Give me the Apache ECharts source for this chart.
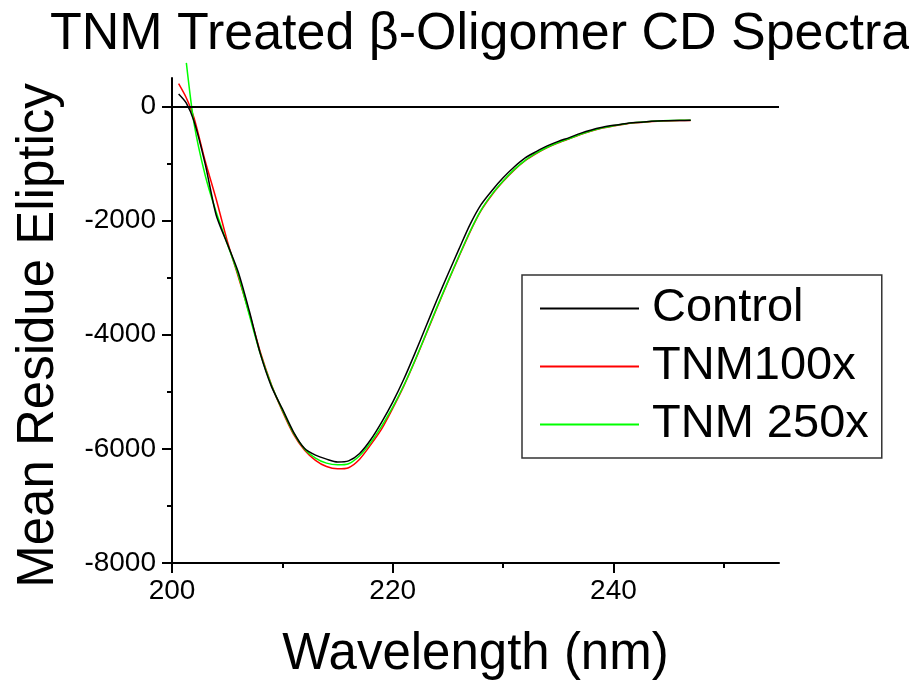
<!DOCTYPE html>
<html>
<head>
<meta charset="utf-8">
<script src="https://cdn.jsdelivr.net/npm/echarts@6/dist/echarts.min.js"></script>
<style>
  html, body { margin: 0; padding: 0; background: #fff; }
  #chart { width: 909px; height: 685px; }
</style>
</head>
<body>
<div id="chart"></div>
<script>
// wavelength (nm); first two points are the irregular starts of the scans
const wavelength = [200.6, 201.3, 202, 203, 204, 205, 206, 207, 208, 209, 210,
  211, 212, 213, 214, 215, 216, 217, 218, 219, 220,
  221, 222, 223, 224, 225, 226, 227, 228, 229, 230,
  231, 232, 233, 234, 235, 236, 237, 238, 239, 240,
  241, 242, 243, 244, 245, 246, 247];

const control = [220, 60, -260, -1000, -1900, -2400, -2900, -3580, -4330, -4900, -5300,
  -5700, -5990, -6110, -6180, -6230, -6210, -6080, -5840, -5530, -5180,
  -4780, -4330, -3860, -3390, -2940, -2500, -2070, -1720, -1470, -1250,
  -1060, -900, -790, -690, -610, -545, -470, -410, -365, -330,
  -300, -280, -265, -255, -248, -244, -242];

const tnm100 = [400, 150, -200, -950, -1620, -2350, -2980, -3620, -4300, -4870, -5340,
  -5740, -6020, -6200, -6310, -6350, -6330, -6180, -5930, -5650, -5290,
  -4900, -4465, -4000, -3530, -3075, -2630, -2200, -1825, -1545, -1315,
  -1115, -950, -825, -720, -635, -565, -492, -428, -378, -340,
  -309, -286, -270, -258, -250, -246, -244];

const tnm250 = [null, 765, -300, -1200, -1850, -2400, -2950, -3650, -4330, -4880, -5320,
  -5720, -6000, -6160, -6250, -6280, -6260, -6120, -5890, -5600, -5270,
  -4890, -4455, -3990, -3520, -3065, -2620, -2190, -1815, -1535, -1305,
  -1105, -942, -818, -714, -630, -560, -488, -424, -374, -336,
  -305, -282, -266, -254, -246, -242, -240];

const seriesNames = ['Control', 'TNM100x', 'TNM 250x'];
const seriesColors = ['#000000', '#ff0000', '#00ff00'];

const xTicks = [200, 220, 240];
const xMinorTicks = [210, 230, 250];
const yTicks = [-8000, -6000, -4000, -2000, 0];
const yMinorTicks = [-7000, -5000, -3000, -1000];

const FONT = '"Liberation Sans", Arial, sans-serif';

function pairs(ys) {
  return wavelength.map((x, i) => [x, ys[i]]);
}

const chart = echarts.init(document.getElementById('chart'), null, { renderer: 'canvas' });

const axisBase = {
  type: 'value',
  splitLine: { show: false },
};
const plainNumber = (v) => String(v);

const option = {
  animation: false,
  backgroundColor: '#fff',
  title: {
    text: 'TNM Treated \u03b2-Oligomer CD Spectra',
    left: 50,
    top: 9,
    padding: 0,
    textStyle: { fontFamily: FONT, fontSize: 52, fontWeight: 'normal', color: '#000' },
  },
  grid: { left: 172, right: 130, top: 78, bottom: 119, containLabel: false },
  legend: {
    orient: 'vertical',
    left: 522,
    top: 275,
    padding: [10, 13, 10, 18],
    itemGap: 11,
    itemWidth: 99,
    itemHeight: 2,
    borderColor: '#333',
    borderWidth: 1.5,
    icon: 'rect',
    textStyle: { fontFamily: FONT, fontSize: 47, color: '#000', padding: [0, 0, 0, 8], lineHeight: 47 },
    data: seriesNames,
  },
  xAxis: [
    Object.assign({}, axisBase, {
      min: 200,
      max: 255,
      name: 'Wavelength (nm)',
      nameLocation: 'middle',
      nameGap: 66,
      nameTextStyle: { fontFamily: FONT, fontSize: 51, color: '#000' },
      axisLine: { show: true, onZero: false, lineStyle: { color: '#000', width: 2 } },
      axisTick: { show: true, length: 10, customValues: xTicks, lineStyle: { color: '#000', width: 2 } },
      axisLabel: { customValues: xTicks, formatter: plainNumber, margin: 14, fontFamily: FONT, fontSize: 28, color: '#000' },
    }),
    Object.assign({}, axisBase, {
      min: 200,
      max: 255,
      position: 'bottom',
      axisLine: { show: false, onZero: false },
      axisTick: { show: true, length: 5, customValues: xMinorTicks, lineStyle: { color: '#000', width: 2 } },
      axisLabel: { show: false },
    }),
  ],
  yAxis: [
    Object.assign({}, axisBase, {
      min: -8000,
      max: 500,
      name: 'Mean Residue Elipticy',
      nameLocation: 'middle',
      nameGap: 108,
      nameTextStyle: { fontFamily: FONT, fontSize: 51, color: '#000', padding: [0, 30, 0, 0] },
      axisLine: { show: true, onZero: false, lineStyle: { color: '#000', width: 2 } },
      axisTick: { show: true, length: 10, customValues: yTicks, lineStyle: { color: '#000', width: 2 } },
      axisLabel: { customValues: yTicks, formatter: plainNumber, margin: 16, fontFamily: FONT, fontSize: 28, color: '#000' },
    }),
    Object.assign({}, axisBase, {
      min: -8000,
      max: 500,
      position: 'left',
      axisLine: { show: false, onZero: false },
      axisTick: { show: true, length: 5, customValues: yMinorTicks, lineStyle: { color: '#000', width: 2 } },
      axisLabel: { show: false },
    }),
  ],
  series: [
    {
      name: seriesNames[1],
      type: 'line',
      data: pairs(tnm100),
      showSymbol: false,
      symbol: 'none',
      smooth: 0.25,
      clip: false,
      z: 2,
      lineStyle: { color: seriesColors[1], width: 1.5 },
      itemStyle: { color: seriesColors[1] },
    },
    {
      name: seriesNames[2],
      type: 'line',
      data: pairs(tnm250),
      showSymbol: false,
      symbol: 'none',
      smooth: 0.25,
      clip: false,
      z: 3,
      lineStyle: { color: seriesColors[2], width: 1.5 },
      itemStyle: { color: seriesColors[2] },
    },
    {
      name: seriesNames[0],
      type: 'line',
      data: pairs(control),
      showSymbol: false,
      symbol: 'none',
      smooth: 0.25,
      clip: false,
      z: 4,
      lineStyle: { color: seriesColors[0], width: 1.5 },
      itemStyle: { color: seriesColors[0] },
      markLine: {
        silent: true,
        symbol: 'none',
        label: { show: false },
        lineStyle: { color: '#000', width: 2, type: 'solid' },
        data: [{ yAxis: 0 }],
      },
    },
  ],
};

chart.setOption(option);
</script>
</body>
</html>
